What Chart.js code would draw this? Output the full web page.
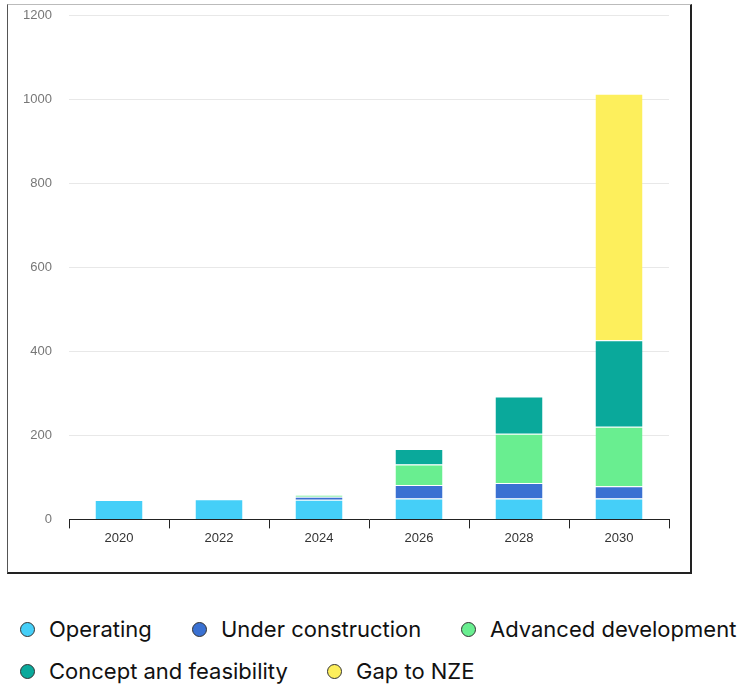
<!DOCTYPE html>
<html lang="en">
	<head>
		<meta charset="UTF-8" />
		<title>Pipeline vs NZE</title>
		<script src="https://cdn.jsdelivr.net/npm/chart.js"></script>
		<style>
			body {
				margin: 0;
				background: #fff;
				font-family: "Liberation Sans", Arial, sans-serif;
			}
			.box {
				position: absolute;
				left: 7px;
				top: 4px;
				width: 682px;
				height: 567px;
				border: 2px solid #222;
				border-top: 1px solid #bbb;
				border-left: 1.5px solid #555;
			}
			.chart-wrap {
				position: absolute;
				left: 8px;
				top: -9px;
				width: 681px;
				height: 582px;
			}
			.legend {
				position: absolute;
				left: 20px;
				top: 616px;
				width: 720px;
				font-family: Inter, sans-serif;
				font-size: 22px;
				color: #111;
			}
			.legend .item {
				position: absolute;
				white-space: nowrap;
				display: flex;
				align-items: center;
			}
			.legend .dot {
				width: 13px;
				height: 13px;
				border-radius: 50%;
				border: 1px solid #333;
				margin-right: 14px;
			}
		</style>
	</head>
	<body>
		<div class="box"></div>
		<div class="chart-wrap"><canvas id="myChart"></canvas></div>
		<div class="legend" id="legend"></div>
		<script>
			// data
			const anos = ["2020", "2022", "2024", "2026", "2028", "2030"];
			const operating = [46, 48, 47, 50, 50, 50];
			const underConstruction = [0, 0, 7, 32, 37, 29];
			const advanced = [0, 0, 5, 49, 117, 142];
			const concept = [0, 0, 0, 37, 89, 206];
			const gapNze = [0, 0, 0, 0, 0, 587];
			const yTicks = [0, 200, 400, 600, 800, 1000, 1200];

			const series = [
				{ label: "Operating", data: operating, cor: "#45cff8" },
				{ label: "Under construction", data: underConstruction, cor: "#3a71d2" },
				{ label: "Advanced development", data: advanced, cor: "#69ee90" },
				{ label: "Concept and feasibility", data: concept, cor: "#0aa99b" },
				{ label: "Gap to NZE", data: gapNze, cor: "#fdef5c" },
			];

			const ctx = document.getElementById("myChart").getContext("2d");

			new Chart(ctx, {
				type: "bar",
				data: {
					labels: anos,
					datasets: series.map((s) => ({
						label: s.label,
						data: s.data,
						backgroundColor: s.cor,
						borderColor: "#ffffff",
						borderWidth: { top: 1, bottom: 0, left: 0, right: 0 },
						borderSkipped: false,
						barPercentage: 0.47,
						categoryPercentage: 1,
					})),
				},
				options: {
					responsive: true,
					maintainAspectRatio: false,
					animation: false,
					layout: {
						padding: { top: 0, right: 20, bottom: 25, left: 0 },
					},
					plugins: {
						legend: { display: false },
						tooltip: { enabled: false },
					},
					scales: {
						x: {
							stacked: true,
							grid: {
								offset: true,
								drawOnChartArea: false,
								color: "#222",
								tickLength: 9,
							},
							border: { color: "#222", width: 1 },
							ticks: {
								color: "#333",
								font: { size: 13, family: "Liberation Sans" },
								padding: 2,
							},
						},
						y: {
							stacked: true,
							min: 0,
							max: 1200,
							afterBuildTicks: (scale) => {
								scale.ticks = yTicks.map((v) => ({ value: v }));
							},
							afterFit: (scale) => {
								scale.width = 61;
							},
							grid: {
								color: "#e8e8e8",
								drawTicks: false,
							},
							border: { display: false },
							ticks: {
								color: "#777",
								font: { size: 13, family: "Liberation Sans" },
								padding: 17,
								callback: (v) => String(v),
							},
						},
					},
				},
			});

			// legenda em html, fora da caixa
			const posicoes = [
				[0, 0], [172, 0], [441, 0],
				[0, 42], [307, 42],
			];
			const legend = document.getElementById("legend");
			series.forEach((s, i) => {
				const item = document.createElement("div");
				item.className = "item";
				item.style.left = posicoes[i][0] + "px";
				item.style.top = posicoes[i][1] + "px";
				item.innerHTML =
					'<span class="dot" style="background:' + s.cor + '"></span>' +
					"<span>" + s.label + "</span>";
				legend.appendChild(item);
			});
		</script>
	</body>
</html>
